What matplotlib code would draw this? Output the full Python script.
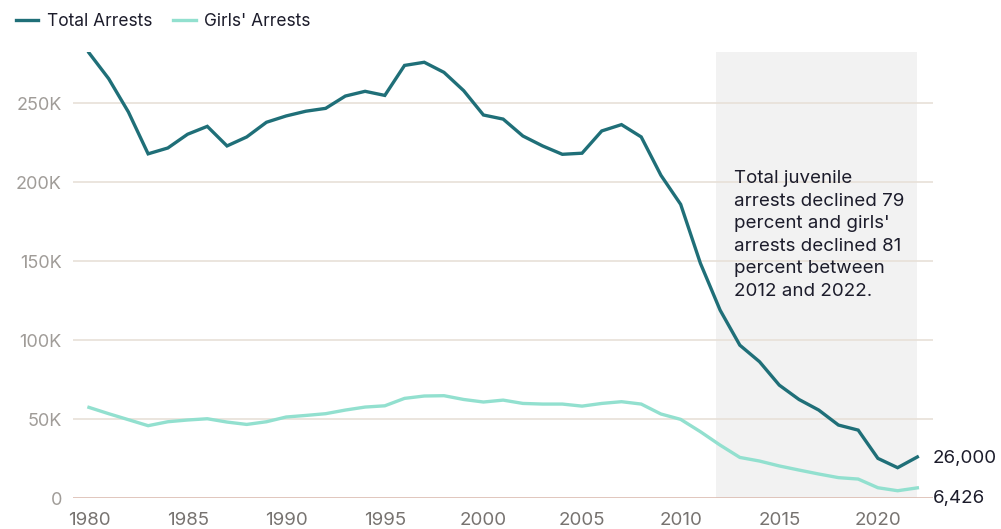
import matplotlib.pyplot as plt
import numpy as np

years = list(range(1980, 2023))
total_arrests = [282000, 265600, 244500, 218000, 221700, 230400, 235400, 223000, 228700, 238000,
                 242000, 245000, 246800, 254600, 257600, 255000, 274000, 276000, 269600, 258000,
                 242600, 240000, 229300, 223000, 217700, 218400, 232500, 236500, 228700, 204400,
                 186000, 148700, 119000, 96800, 86300, 71500, 62400, 55700, 46200, 43000,
                 25100, 19200, 26000]
girls_arrests = [57400, 53400, 49600, 45800, 48300, 49400, 50200, 48100, 46600, 48300,
                 51300, 52300, 53400, 55700, 57600, 58400, 63100, 64600, 64800, 62400,
                 60800, 62000, 59900, 59500, 59500, 58200, 59900, 61000, 59500, 53200,
                 49800, 42000, 33500, 25700, 23400, 20300, 17700, 15200, 12900, 12000,
                 6500, 4600, 6426]
y_ticks = [0, 50000, 100000, 150000, 200000, 250000]
y_labels = ['0', '50K', '100K', '150K', '200K', '250K']
x_ticks = [1980, 1985, 1990, 1995, 2000, 2005, 2010, 2015, 2020]
band = (2012, 2022)
note = ("Total juvenile\narrests declined 79\npercent and girls'\n"
        "arrests declined 81\npercent between\n2012 and 2022.")

plt.rcParams['font.family'] = ['Inter', 'DejaVu Sans']

total_color = '#1f6f78'
girls_color = '#92e0cf'
text_dark = '#1c1c2b'

fig = plt.figure(figsize=(10.01, 5.29), dpi=100)
ax = fig.add_axes([0.0729, 0.0586, 0.932 - 0.0729, 0.9017 - 0.0586])

# shaded period, nudged a bit left like the original
ax.axvspan(band[0] - 0.2, band[1], color='#f2f2f2', zorder=0, lw=0)
for t in y_ticks[1:]:
    ax.axhline(t, color='#e8e0d8', lw=1.2, zorder=1)
ax.axhline(0, color='#dcbcb2', lw=1.2, zorder=1)

ax.plot(years, total_arrests, color=total_color, lw=2.4, zorder=3,
        solid_joinstyle='miter', label='Total Arrests')
ax.plot(years, girls_arrests, color=girls_color, lw=2.4, zorder=3,
        solid_joinstyle='miter', label="Girls' Arrests")

ax.set_xlim(1979.19, 2022.79)
ax.set_ylim(0, 282500)
ax.set_yticks(y_ticks)
ax.set_yticklabels(y_labels)
ax.set_xticks(x_ticks)
ax.tick_params(axis='y', length=0, pad=8, labelsize=13, labelcolor='#a09c98')
ax.tick_params(axis='x', length=0, pad=10, labelsize=13.5, labelcolor='#777370')
for s in ax.spines.values():
    s.set_visible(False)

ax.text(2012.72, 207500, note, fontsize=13.5, color=text_dark, va='top',
        ha='left', linespacing=1.42, zorder=4)

ax.annotate(f'{total_arrests[-1]:,}', (years[-1], total_arrests[-1]), xytext=(11, -1),
            textcoords='offset points', va='center', ha='left', fontsize=13.5,
            color=text_dark, annotation_clip=False)
ax.annotate(f'{girls_arrests[-1]:,}', (years[-1], 0), xytext=(11, 0),
            textcoords='offset points', va='center', ha='left', fontsize=13.5,
            color=text_dark, annotation_clip=False)

fig.legend(loc='upper left', bbox_to_anchor=(0.0, 1.005), ncol=2, frameon=False,
           fontsize=12.5, handlelength=1.3, handletextpad=0.5, columnspacing=1.2,
           labelcolor=text_dark)

fig.savefig('out.png', dpi=100)
